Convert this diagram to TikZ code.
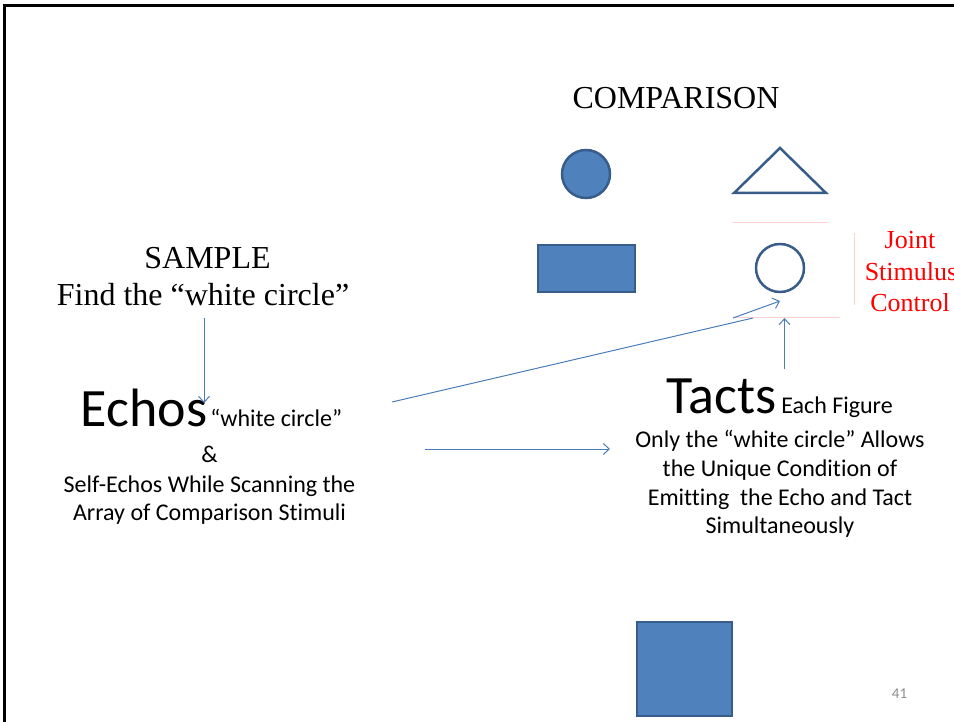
\documentclass[tikz,border=0pt]{standalone}
\usepackage{fontspec}
\setmainfont{Liberation Serif}
\newfontfamily\calfont[Ligatures=NoCommon]{Carlito}
\usetikzlibrary{arrows.meta}
\definecolor{shapefill}{HTML}{4F81BD}
\definecolor{shapeline}{HTML}{385D8A}
\definecolor{arrowblue}{HTML}{4A7EBB}
\definecolor{pinkline}{HTML}{FFD0D0}
\definecolor{pagenum}{HTML}{8C8C8C}
\begin{document}
\begin{tikzpicture}[x=1pt,y=-1pt,
  serifbig/.style={font=\fontsize{32}{38}\selectfont, inner sep=0pt, anchor=base},
  redtext/.style={font=\fontsize{26}{31}\selectfont, text=red, inner sep=0pt, anchor=base},
  sanstext/.style={font=\calfont\fontsize{24}{28}\selectfont, inner sep=0pt, anchor=base},
  solidshape/.style={draw=shapeline, fill=shapefill, line width=2.5pt, inner sep=0pt},
  openshape/.style={draw=shapeline, fill=white, line width=2.5pt, inner sep=0pt},
  conn/.style={draw=arrowblue, line width=1pt, -{Straight Barb[length=6pt,width=11pt]}},
  plainconn/.style={draw=arrowblue, line width=1pt},
  pinkedge/.style={draw=pinkline, line width=1pt}
]
\useasboundingbox (0,0) rectangle (954,722);
% frame
\draw[line width=3pt, line cap=rect] (4.5,722) -- (4.5,6) -- (954,6);

% comparison title
\node[serifbig] (comp) at (676,109) {COMPARISON};

% comparison shapes
\node[solidshape, circle, minimum size=48pt] (fcirc) at (586,174) {};
\draw[openshape, line join=miter] (734,193) -- (780,148) -- (826,193) -- cycle;
\node[solidshape, rectangle, minimum width=97pt, minimum height=47pt] (frect) at (586.5,268.5) {};
\node[openshape, circle, minimum size=48pt] (wcirc) at (780,268) {};
\node[solidshape, rectangle, minimum width=95pt, minimum height=94pt] (fsq) at (684.5,669) {};

% pink frame around white circle
\draw[pinkedge] (733,223) -- (828,223);
\draw[pinkedge] (854,233) -- (854,305);
\draw[pinkedge] (733,318) -- (840,318);

% joint stimulus control
\node[redtext] (joint) at (910,249) {Joint};
\node[redtext] (stim) at (911,281) {Stimulus};
\node[redtext] (ctrl) at (910,312) {Control};

% sample
\node[serifbig] (sample) at (207.5,269) {SAMPLE};
\node[serifbig] (find) at (203,306) {Find the “white circle”};

% echos block
\node[sanstext] (echos) at (211.5,426) {{\fontsize{54}{60}\selectfont Echos}\hspace{3pt}“white circle”};
\node[sanstext] (amp) at (209.5,462) {\&};
\node[sanstext] (self) at (209.5,492) {Self-Echos While Scanning the};
\node[sanstext] (array) at (209.5,520) {Array of Comparison Stimuli};

% tacts block
\node[sanstext] (tacts) at (779.5,413) {{\fontsize{54}{60}\selectfont Tacts}\hspace{5pt}Each Figure};
\node[sanstext] (only) at (780,447) {Only the “white circle” Allows};
\node[sanstext] (uniq) at (780,476) {the Unique Condition of};
\node[sanstext] (emit) at (780,505) {Emitting\ \ the Echo and Tact};
\node[sanstext] (simul) at (780,533) {Simultaneously};

% page number
\node[font=\calfont\fontsize{15}{18}\selectfont, text=pagenum, inner sep=0pt, anchor=base] (pnum) at (899.5,698) {41};

% connector end points
\coordinate (findout) at (204,318);
\coordinate (echosin) at (204,403);
\coordinate (echosout) at (392,402);
\coordinate (longend) at (753,318);
\coordinate (shortstart) at (733,318);
\coordinate (circin) at (780,301);
\coordinate (tactsout) at (784.5,369);
\coordinate (framebot) at (784.5,318);
\coordinate (scanout) at (425,449);
\coordinate (tactsin) at (610,449);

% connectors
\draw[conn] (findout) -- (echosin);
\draw[plainconn] (echosout) -- (longend);
\draw[conn] (shortstart) -- (circin);
\draw[conn] (tactsout) -- (framebot);
\draw[conn] (scanout) -- (tactsin);
\end{tikzpicture}
\end{document}
